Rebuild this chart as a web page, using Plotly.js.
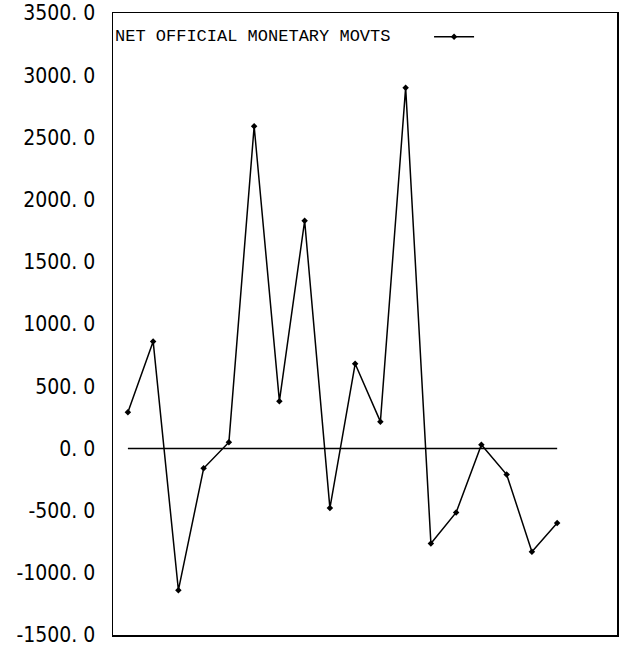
<!DOCTYPE html>
<html>
<head>
<meta charset="utf-8">
<script src="https://cdn.plot.ly/plotly-3.0.1.min.js"></script>
<style>html,body{margin:0;padding:0;background:#fff;}#chart{width:630px;height:654px;}</style>
</head>
<body>
<div id="chart"></div>
<script>
// Data
var periods = [1,2,3,4,5,6,7,8,9,10,11,12,13,14,15,16,17,18];
var netOfficialMonetaryMovts = [290, 860, -1140, -160, 50, 2590, 380, 1830, -480, 680, 215, 2900, -765, -515, 30, -210, -830, -600];
var seriesName = "NET OFFICIAL MONETARY MOVTS";
var yTickValues = [-1500, -1000, -500, 0, 500, 1000, 1500, 2000, 2500, 3000, 3500];
var yTickLabels = ["-1500. 0", "-1000. 0", "-500. 0", "0. 0", "500. 0", "1000. 0", "1500. 0", "2000. 0", "2500. 0", "3000. 0", "3500. 0"];

var trace = {
  x: periods,
  y: netOfficialMonetaryMovts,
  type: 'scatter',
  mode: 'lines+markers',
  name: '',
  line: {color: '#000', width: 1.5},
  marker: {color: '#000', size: 5, symbol: 'diamond'},
  showlegend: true
};

var layout = {
  width: 630,
  height: 654,
  margin: {l: 113, r: 13, t: 13, b: 19},
  paper_bgcolor: '#fff',
  plot_bgcolor: '#fff',
  showlegend: true,
  legend: {
    x: 0.0, y: 0.99, xanchor: 'left', yanchor: 'top',
    bgcolor: 'rgba(0,0,0,0)',
    title: {text: seriesName + '\u00a0\u00a0\u00a0', side: 'left', font: {family: 'Liberation Mono, DejaVu Sans Mono, monospace', size: 17, color: '#000'}},
    font: {family: 'Liberation Mono, monospace', size: 17, color: '#000'},
    itemwidth: 40
  },
  xaxis: {
    range: [0.41, 20.37],
    showgrid: false, zeroline: false,
    showticklabels: false, ticks: '',
    showline: true, mirror: true, linecolor: '#000', linewidth: 1.5
  },
  yaxis: {
    range: [-1500, 3500],
    tickvals: yTickValues,
    ticktext: yTickLabels,
    showgrid: false, zeroline: false, ticks: '',
    ticklabelstandoff: 12,
    ticklabeloverflow: 'allow',
    tickfont: {family: 'Liberation Sans Narrow, DejaVu Sans Condensed, Liberation Sans, sans-serif', size: 21, color: '#000'},
    showline: true, mirror: true, linecolor: '#000', linewidth: 1.5
  },
  shapes: [{
    type: 'line', xref: 'x', yref: 'y',
    x0: periods[0], x1: periods[periods.length - 1], y0: 0, y1: 0,
    line: {color: '#000', width: 1.5}
  }]
};

Plotly.newPlot('chart', [trace], layout, {displayModeBar: false, staticPlot: true});
</script>
</body>
</html>
